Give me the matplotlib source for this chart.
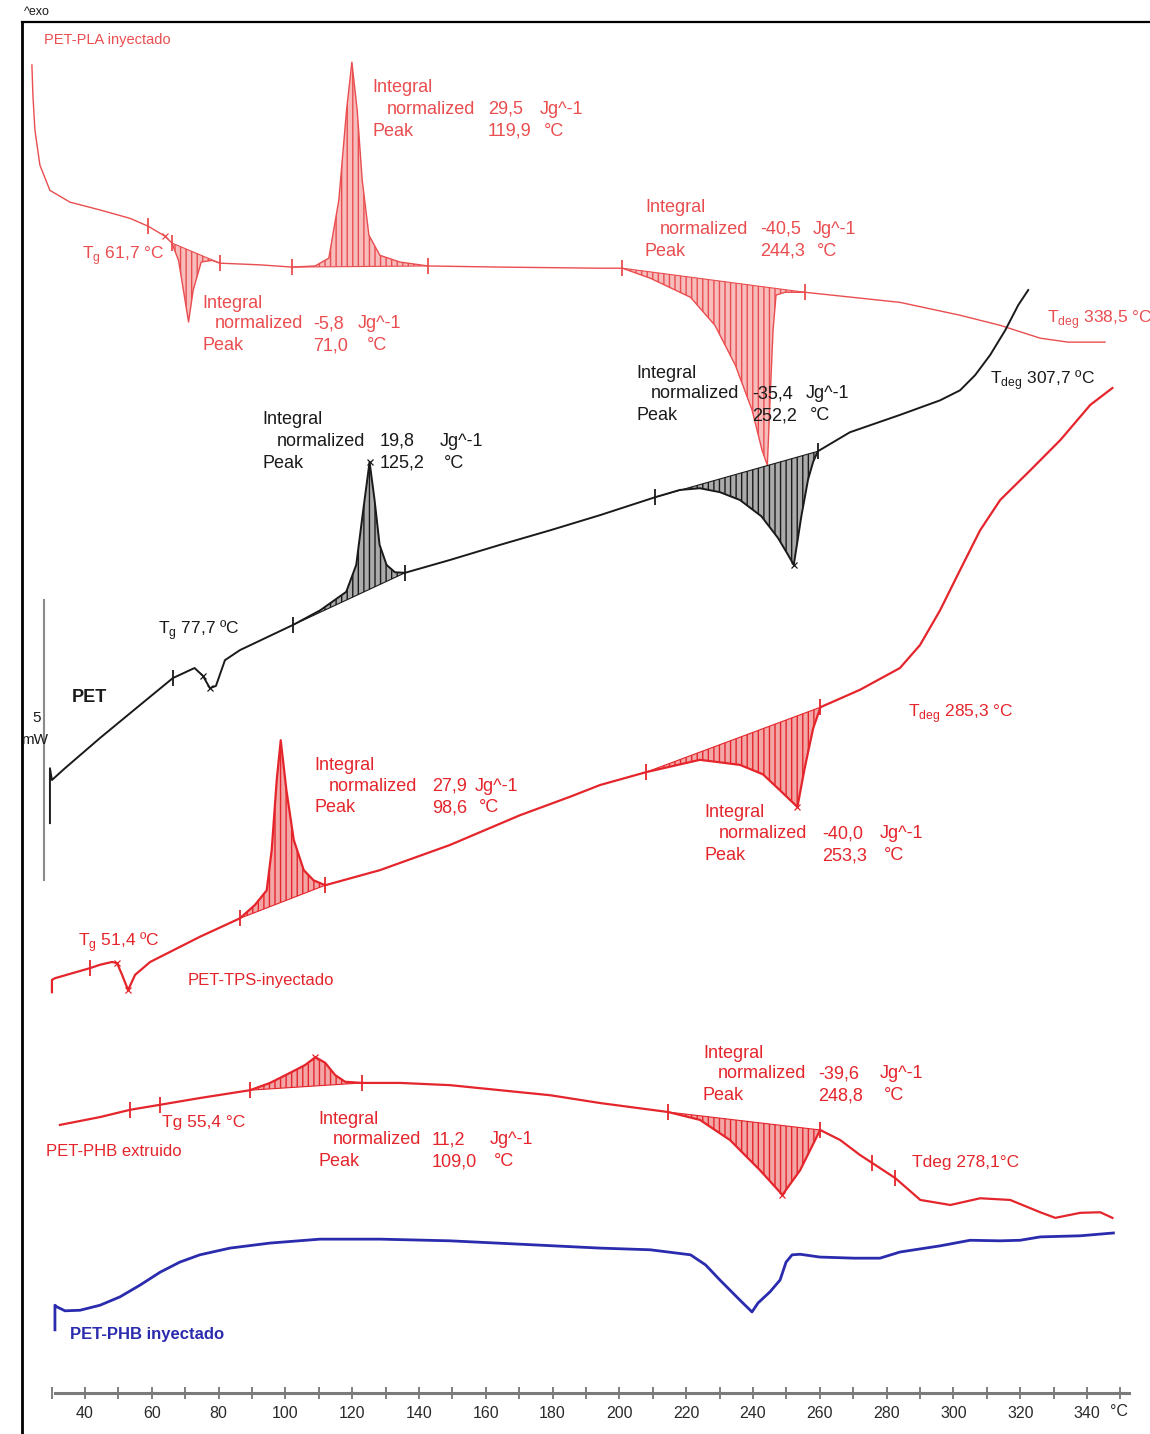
import numpy as np
import matplotlib.pyplot as plt

plt.rcParams['font.family'] = ['Liberation Sans', 'DejaVu Sans']
plt.rcParams['mathtext.fontset'] = 'custom'
plt.rcParams['mathtext.rm'] = 'Liberation Sans'
plt.rcParams['hatch.linewidth'] = 1.0

# DSC traces: temperature (degC) vs heat flow (mW, curves stacked with offsets)
pla_t = np.array([24.1, 24.4, 25.0, 26.5, 29.5, 35.5, 44.5, 53.5, 58.9, 64.0,
                  66.0, 68.0, 69.7, 71.0, 72.4, 74.8, 78.0, 80.4, 92.4, 102.0,
                  108.9, 113.0, 116.0, 118.3, 119.9, 121.5, 123.0, 125.0, 128.3, 134.3,
                  142.7, 164.3, 194.3, 200.9, 209.3, 221.3, 228.6, 234.7, 239.7, 242.7,
                  244.3, 245.1, 246.0, 246.9, 249.6, 255.6, 284.0, 302.0, 314.0, 326.0,
                  334.3, 345.4])
pla_q = np.array([24.45, 23.91, 23.29, 22.66, 22.21, 22.00, 21.86, 21.71, 21.57, 21.39,
                  21.27, 20.96, 20.34, 19.86, 20.43, 20.93, 20.96, 20.91, 20.88, 20.84,
                  20.86, 21.00, 22.04, 23.64, 24.50, 23.64, 22.39, 21.41, 21.05, 20.93,
                  20.86, 20.84, 20.82, 20.82, 20.64, 20.30, 19.80, 19.09, 18.29, 17.57,
                  17.30, 18.46, 19.71, 20.34, 20.39, 20.39, 20.21, 19.98, 19.80, 19.57,
                  19.50, 19.50])

pet_t = np.array([29.5, 29.5, 30.1, 34.0, 44.5, 56.5, 66.3, 72.8, 75.3, 77.4, 79.2,
                  81.9, 86.4, 102.3, 110.4, 118.2, 121.2, 123.3, 125.2, 126.7, 128.2,
                  130.3, 132.8, 135.8, 149.3, 164.3, 179.3, 194.2, 210.7, 218.1, 224.1,
                  230.1, 236.1, 242.5, 247.5, 250.5, 252.2, 254.5, 256.5, 258.0, 259.4,
                  269.0, 284.0, 296.0, 302.0, 306.5, 311.0, 315.5, 319.4, 322.4])
pet_q = np.array([10.91, 11.89, 11.68, 11.89, 12.43, 13.02, 13.50, 13.68, 13.54, 13.32, 13.36,
                  13.82, 14.00, 14.45, 14.71, 15.04, 15.52, 16.50, 17.36, 16.68, 15.88,
                  15.52, 15.39, 15.38, 15.61, 15.88, 16.14, 16.41, 16.73, 16.86, 16.89,
                  16.82, 16.68, 16.39, 16.00, 15.70, 15.52, 16.40, 17.05, 17.36, 17.55,
                  17.89, 18.20, 18.46, 18.64, 18.91, 19.27, 19.71, 20.16, 20.43])

tps_t = np.array([30.1, 30.1, 31.0, 41.5, 44.5, 48.1, 49.6, 51.1, 52.9, 55.0,
                  59.5, 74.4, 86.4, 90.9, 94.4, 95.9, 97.4, 98.6, 100.3, 102.5,
                  105.5, 108.4, 111.9, 128.3, 149.3, 170.2, 185.2, 194.2, 208.0, 224.1,
                  236.1, 243.0, 248.0, 251.5, 253.3, 255.5, 258.0, 260.2, 272.0, 284.0,
                  290.0, 296.0, 302.0, 308.0, 314.0, 323.0, 332.0, 341.0, 347.6])
tps_q = np.array([7.89, 8.11, 8.14, 8.32, 8.38, 8.43, 8.41, 8.20, 7.93, 8.20,
                  8.43, 8.88, 9.21, 9.45, 9.71, 10.43, 11.68, 12.39, 11.50, 10.61,
                  10.07, 9.89, 9.80, 10.07, 10.52, 11.05, 11.38, 11.59, 11.82, 12.04,
                  11.95, 11.78, 11.50, 11.30, 11.20, 11.90, 12.60, 12.98, 13.29, 13.68,
                  14.09, 14.71, 15.43, 16.14, 16.68, 17.21, 17.75, 18.38, 18.68])

phbx_t = np.array([32.5, 44.5, 53.5, 62.5, 74.4, 89.4, 95.4, 101.4, 105.9, 109.0,
                   111.9, 114.9, 117.9, 123.0, 134.3, 149.3, 164.3, 179.3, 194.3, 214.6,
                   224.1, 233.1, 242.1, 248.8, 254.1, 258.6, 260.1, 266.1, 272.1, 275.7,
                   282.6, 290.1, 299.1, 308.0, 317.0, 326.0, 330.5, 338.0, 344.0, 347.6])
phbx_q = np.array([5.52, 5.66, 5.79, 5.88, 6.00, 6.14, 6.27, 6.45, 6.59, 6.73,
                   6.63, 6.41, 6.29, 6.27, 6.27, 6.23, 6.14, 6.05, 5.91, 5.75,
                   5.61, 5.25, 4.71, 4.27, 4.71, 5.25, 5.43, 5.25, 4.98, 4.84,
                   4.57, 4.18, 4.09, 4.21, 4.18, 3.96, 3.86, 3.95, 3.96, 3.86])

phbi_t = np.array([31.0, 31.0, 31.6, 34.0, 38.5, 44.5, 50.5, 56.5, 62.5, 68.4,
                   74.4, 83.4, 95.4, 110.4, 128.3, 149.3, 170.2, 194.2, 209.2, 221.3,
                   225.8, 230.1, 236.1, 239.7, 241.5, 245.1, 248.1, 249.9, 251.7, 254.1,
                   260.0, 270.4, 278.0, 284.0, 296.0, 305.0, 314.0, 320.0, 326.0, 338.0,
                   347.9])
phbi_q = np.array([1.86, 2.30, 2.27, 2.20, 2.21, 2.30, 2.45, 2.66, 2.89, 3.07,
                   3.20, 3.32, 3.41, 3.48, 3.48, 3.45, 3.39, 3.32, 3.29, 3.20,
                   3.02, 2.75, 2.39, 2.18, 2.34, 2.54, 2.75, 3.07, 3.20, 3.21,
                   3.16, 3.14, 3.14, 3.25, 3.36, 3.46, 3.45, 3.46, 3.52, 3.54,
                   3.59])

# integration limits (degC), enthalpies (J/g) and peak temperatures (degC)
pla_lims = [(66.0, 80.4), (102.0, 142.7), (200.9, 255.6)]
pla_dh = [-5.8, 29.5, -40.5]
pla_tp = [71.0, 119.9, 244.3]
pla_tg, pla_tdeg = 61.7, 338.5

pet_lims = [(102.3, 135.8), (210.7, 259.4)]
pet_dh = [19.8, -35.4]
pet_tp = [125.2, 252.2]
pet_tg, pet_tdeg = 77.7, 307.7

tps_lims = [(86.4, 111.9), (208.0, 260.2)]
tps_dh = [27.9, -40.0]
tps_tp = [98.6, 253.3]
tps_tg, tps_tdeg = 51.4, 285.3

phbx_lims = [(89.4, 123.0), (214.6, 260.1)]
phbx_dh = [11.2, -39.6]
phbx_tp = [109.0, 248.8]
phbx_tg, phbx_tdeg = 55.4, 278.1

scale_mw = 5

RED = '#e4252b'
PLA_RED = '#ea4d4f'
BLACK = '#1a1a1a'
BLUE = '#2b2bae'

W, H = 1150, 1434
fig = plt.figure(figsize=(W / 100, H / 100), dpi=100)
ax = fig.add_axes([0, 0, 1, 1])
ax.set_xlim(14.55, 358.86)
ax.set_ylim(0, 25.61)


def comma(v):
    return f'{v:.1f}'.replace('.', ',')


def note(x, y, s, color, size=13, ha='left', **kw):
    ax.text(x / W, 1 - y / H, s, transform=fig.transFigure, color=color,
            fontsize=size, va='center', ha=ha, **kw)


def integral_block(x0, y0, dh, tp, color, dv=116, du=168, dc=4, dn=15):
    note(x0, y0, 'Integral', color)
    note(x0 + dn, y0 + 21, 'normalized', color)
    note(x0 + dv, y0 + 21, comma(dh), color)
    note(x0 + du, y0 + 21, 'Jg^-1', color)
    note(x0, y0 + 43, 'Peak', color)
    note(x0 + dv, y0 + 43, comma(tp), color)
    note(x0 + du + dc, y0 + 43, '°C', color)


def trace(t, q, color, lw, lims, fill, ticks=(), crosses=()):
    ax.plot(t, q, color=color, lw=lw, solid_joinstyle='round', zorder=3)
    for a, b in lims:
        qa, qb = np.interp([a, b], t, q)
        m = (t > a) & (t < b)
        tt = np.concatenate([[a], t[m], [b]])
        qq = np.concatenate([[qa], q[m], [qb]])
        base = np.interp(tt, [a, b], [qa, qb])
        ax.fill_between(tt, qq, base, facecolor=fill, edgecolor=color,
                        hatch='|||', lw=0, zorder=2)
        ax.plot([a, b], [qa, qb], color=color, lw=0.8, zorder=3)
        ticks = list(ticks) + [a, b]
    if len(ticks):
        ax.plot(ticks, np.interp(ticks, t, q), ls='none', marker='|', ms=11,
                mew=1.3, color=color, zorder=4)
    if len(crosses):
        ax.plot(crosses, np.interp(crosses, t, q), ls='none', marker='x', ms=5,
                mew=0.9, color=color, zorder=4)


trace(pla_t, pla_q, PLA_RED, 1.0, pla_lims, '#f7bcbc',
      ticks=[58.9], crosses=[64.0])
trace(pet_t, pet_q, BLACK, 1.4, pet_lims, '#ababab',
      ticks=[66.3], crosses=[75.3, 77.4, pet_tp[0], pet_tp[1]])
trace(tps_t, tps_q, RED, 1.6, tps_lims, '#f3a6a6',
      ticks=[41.5], crosses=[49.6, 52.9, tps_tp[1]])
trace(phbx_t, phbx_q, RED, 1.6, phbx_lims, '#f3a6a6',
      ticks=[53.5, 62.5, 275.7, 282.6], crosses=[phbx_tp[0], phbx_tp[1]])
ax.plot(phbi_t, phbi_q, color=BLUE, lw=2.0, solid_joinstyle='round', zorder=3)

# frame and temperature axis
ax.spines['right'].set_visible(False)
ax.spines['left'].set_position(('data', 21.1))
ax.spines['left'].set_bounds(0, 25.21)
ax.spines['left'].set_linewidth(2.0)
ax.spines['top'].set_position(('data', 25.21))
ax.spines['top'].set_bounds(21.1, 358.86)
ax.spines['top'].set_linewidth(1.6)
ax.spines['bottom'].set_position(('data', 0.73))
ax.spines['bottom'].set_bounds(31, 352.5)
ax.spines['bottom'].set_color('#7a7a7a')
ax.spines['bottom'].set_linewidth(2.2)
ax.set_xticks(np.arange(40, 341, 20))
ax.set_xticks(np.arange(30, 351, 10), minor=True)
ax.tick_params(axis='x', which='both', direction='inout', length=8, width=1.2,
               color='#6a6a6a', labelsize=11.5, labelcolor='#2a2a2a', pad=5, top=False)
ax.tick_params(axis='y', left=False, labelleft=False)
note(1110, 1412, '°C', '#2a2a2a', size=11.5)

# 5 mW scale bar
ax.plot([27.7, 27.7], [9.9, 9.9 + scale_mw], color='#8a8a8a', lw=1.5)
note(41, 718, str(scale_mw), BLACK, size=11, ha='right')
note(21, 740, 'mW', BLACK, size=11)
note(24, 12, '^exo', BLACK, size=9)

# PET-PLA labels
note(44, 40, 'PET-PLA inyectado', PLA_RED, size=10.5)
note(82, 256, 'T$_\\mathregular{g}$ ' + comma(pla_tg) + ' °C', PLA_RED, size=12.5)
note(1047, 320, 'T$_\\mathregular{deg}$ ' + comma(pla_tdeg) + ' °C', PLA_RED, size=12.5)
integral_block(202, 303, pla_dh[0], pla_tp[0], PLA_RED, dv=111, du=156, dc=9, dn=13)
integral_block(372, 88, pla_dh[1], pla_tp[1], PLA_RED, dv=116, du=168)
integral_block(645, 208, pla_dh[2], pla_tp[2], PLA_RED, dv=115, du=168)

# PET labels
note(72, 697, 'PET', BLACK, size=13, fontweight='bold')
note(158, 630, 'T$_\\mathregular{g}$ ' + comma(pet_tg) + ' ºC', BLACK, size=12.5)
note(990, 380, 'T$_\\mathregular{deg}$ ' + comma(pet_tdeg) + ' ºC', BLACK, size=12.5)
integral_block(262, 420, pet_dh[0], pet_tp[0], BLACK, dv=118, du=178)
integral_block(636, 373, pet_dh[1], pet_tp[1], BLACK, dv=116, du=170)

# PET-TPS labels
note(78, 942, 'T$_\\mathregular{g}$ ' + comma(tps_tg) + ' ºC', RED, size=12.5)
note(188, 980, 'PET-TPS-inyectado', RED, size=12)
note(908, 714, 'T$_\\mathregular{deg}$ ' + comma(tps_tdeg) + ' °C', RED, size=12.5)
integral_block(314, 765, tps_dh[0], tps_tp[0], RED, dv=118, du=161)
integral_block(704, 813, tps_dh[1], tps_tp[1], RED, dv=118, du=176)

# PET-PHB extruido labels
note(162, 1122, 'Tg ' + comma(phbx_tg) + ' °C', RED, size=12.5)
note(46, 1152, 'PET-PHB extruido', RED, size=12)
note(912, 1163, 'Tdeg ' + comma(phbx_tdeg) + '°C', RED, size=12.5)
integral_block(318, 1119, phbx_dh[0], phbx_tp[0], RED, dv=114, du=172)
integral_block(703, 1053, phbx_dh[1], phbx_tp[1], RED, dv=115, du=177)

note(70, 1335, 'PET-PHB inyectado', BLUE, size=12, fontweight='bold')

fig.savefig('out.png', dpi=100)
